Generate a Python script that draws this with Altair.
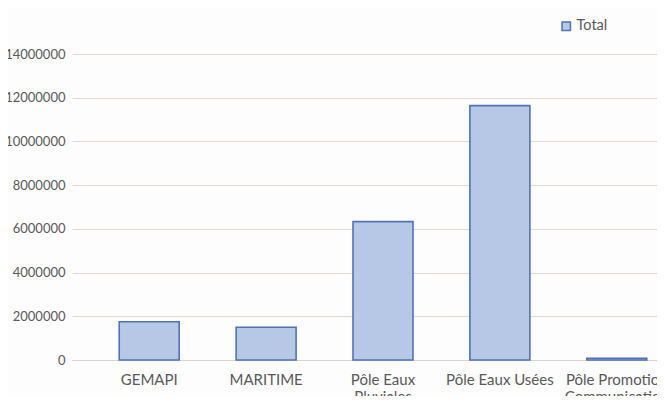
import altair as alt
import pandas as pd

categories = ["GEMAPI", "MARITIME", "Pôle Eaux Pluviales", "Pôle Eaux Usées", "Pôle Promotion Communication"]
totals = [1750000, 1500000, 6330000, 11640000, 80000]
series = ["Total"] * len(categories)
y_ticks = [0, 2000000, 4000000, 6000000, 8000000, 10000000, 12000000, 14000000]

df = pd.DataFrame({"Catégorie": categories, "Total": totals, "Série": series})

label_expr = (
    "datum.value == 'Pôle Eaux Pluviales' ? ['Pôle Eaux', 'Pluviales'] : "
    "datum.value == 'Pôle Promotion Communication' ? ['Pôle Promotion', 'Communication'] : datum.label"
)

FONT = "Lato"
GRAY = "#595959"

chart = alt.Chart(df).mark_bar(
    stroke="#4f72b8", strokeWidth=1.6
).encode(
    x=alt.X(
        "Catégorie:N",
        sort=categories,
        title=None,
        scale=alt.Scale(range=[0, 622], paddingInner=0.487, paddingOuter=0.404),
        axis=alt.Axis(
            labelAngle=0, labelExpr=label_expr, labelFont=FONT, labelFontSize=15,
            labelColor=GRAY, labelPadding=12, labelLineHeight=17, ticks=False,
            domain=True, domainColor="#d9d2cf", domainWidth=1.2, grid=False, labelLimit=300,
        ),
    ),
    y=alt.Y(
        "Total:Q",
        title=None,
        scale=alt.Scale(domain=[0, 14000000], nice=False),
        axis=alt.Axis(
            values=y_ticks, format="d", labelFont=FONT, labelFontSize=13, labelColor=GRAY,
            labelPadding=7, ticks=False, domain=False, grid=True,
            gridColor="#e3d7d3", gridWidth=1.2,
        ),
    ),
    color=alt.Color(
        "Série:N",
        scale=alt.Scale(range=["#b7c8e7"]),
        legend=alt.Legend(
            title=None, orient="none", legendX=487, legendY=-35,
            symbolType="square", symbolSize=70, symbolStrokeColor="#4f72b8",
            symbolStrokeWidth=1.5, labelFont=FONT, labelFontSize=14.5, labelColor=GRAY,
            labelOffset=3,
        ),
    ),
).properties(
    width=585,
    height=306,
    autosize=alt.AutoSizeParams(type="none"),
    padding={"left": 64, "top": 46, "right": 0, "bottom": 36},
    background="#fdfdfd",
).configure_view(stroke=None)

chart.save("out.html", embed_options={"renderer": "svg", "actions": False})
